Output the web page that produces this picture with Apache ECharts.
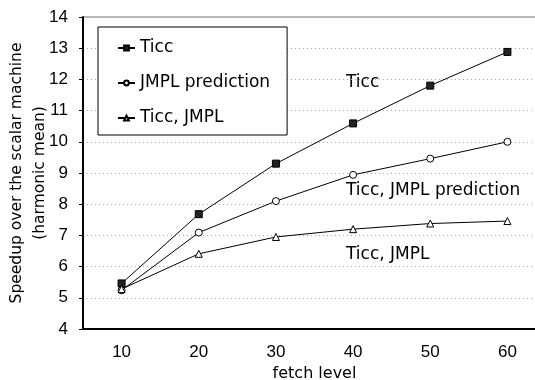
<!DOCTYPE html>
<html>
<head>
<meta charset="utf-8">
<script src="https://cdn.jsdelivr.net/npm/echarts@6/dist/echarts.min.js"></script>
<style>
    html, body { margin: 0; padding: 0; background: #fff; }
    #chart { width: 535px; height: 380px; }
</style>
</head>
<body>
<div id="chart"></div>
<script>
// fetch level
var fetchLevels = ['10', '20', '30', '40', '50', '60'];
// speedup values
var ticc = [5.46, 7.68, 9.3, 10.59, 11.8, 12.88];
var jmplPrediction = [5.24, 7.09, 8.1, 8.94, 9.46, 10.0];
var ticcJmpl = [5.28, 6.41, 6.95, 7.2, 7.38, 7.46];
var seriesNames = ['Ticc', 'JMPL prediction', 'Ticc, JMPL'];
// annotations inside the plot
var noteTexts = ['Ticc', 'Ticc, JMPL prediction', 'Ticc, JMPL'];

var textFont = '"DejaVu Sans", sans-serif';
var numFont = '"Liberation Sans", Arial, sans-serif';

var chart = echarts.init(document.getElementById('chart'));

function lineSeries(name, data, symbol, size, fill) {
    return {
        name: name,
        type: 'line',
        data: data,
        symbol: symbol,
        symbolSize: size,
        showAllSymbol: true,
        lineStyle: { color: '#000', width: 1 },
        itemStyle: { color: fill, borderColor: '#000', borderWidth: 1 },
        emphasis: { disabled: true },
        animation: false
    };
}

var option = {
    animation: false,
    grid: {
        left: 83, right: -11, top: 17, bottom: 51,
        outerBoundsMode: 'none',
        containLabel: false,
        show: true,
        borderColor: '#777',
        borderWidth: 1
    },
    legend: {
        orient: 'vertical',
        left: 98,
        top: 27,
        data: seriesNames,
        itemWidth: 17,
        itemHeight: 6,
        itemGap: 17,
        padding: [12, 17, 8, 19],
        borderColor: '#000',
        borderWidth: 1,
        backgroundColor: '#fff',
        textStyle: { fontFamily: textFont, fontSize: 17, color: '#000', lineHeight: 18 }
    },
    xAxis: {
        type: 'category',
        data: fetchLevels,
        name: 'fetch level',
        nameLocation: 'middle',
        nameGap: 37,
        nameMoveOverlap: false,
        nameTextStyle: { fontFamily: textFont, fontSize: 16, color: '#000' },
        axisLine: { lineStyle: { color: '#000', width: 2 } },
        axisTick: { inside: true, length: 6, lineStyle: { color: '#000', width: 1 } },
        axisLabel: { fontFamily: numFont, fontSize: 17, color: '#000', margin: 15 },
        splitLine: { show: false }
    },
    yAxis: {
        type: 'value',
        min: 4,
        max: 14,
        interval: 1,
        name: 'Speedup over the scalar machine\n(harmonic mean)',
        nameLocation: 'middle',
        nameRotate: 90,
        nameGap: 32,
        nameMoveOverlap: false,
        nameTextStyle: { fontFamily: textFont, fontSize: 15.5, color: '#000', lineHeight: 23 },
        axisLine: { show: true, lineStyle: { color: '#000', width: 2 } },
        axisTick: { show: true, length: 4, lineStyle: { color: '#000', width: 1 } },
        axisLabel: { fontFamily: numFont, fontSize: 17, color: '#000', margin: 15 },
        splitLine: { lineStyle: { color: '#aaa', width: 1, type: [1, 3] } }
    },
    graphic: [
        { type: 'text', left: 346, top: 74, style: { text: noteTexts[0], font: '17px ' + textFont, fill: '#000' } },
        { type: 'text', left: 346, top: 182, style: { text: noteTexts[1], font: '17px ' + textFont, fill: '#000' } },
        { type: 'text', left: 346, top: 246, style: { text: noteTexts[2], font: '17px ' + textFont, fill: '#000' } }
    ],
    series: [
        lineSeries(seriesNames[0], ticc, 'rect', 7, '#222'),
        lineSeries(seriesNames[1], jmplPrediction, 'circle', 7, '#fff'),
        lineSeries(seriesNames[2], ticcJmpl, 'triangle', 7, '#fff')
    ]
};

chart.setOption(option);
</script>
</body>
</html>
